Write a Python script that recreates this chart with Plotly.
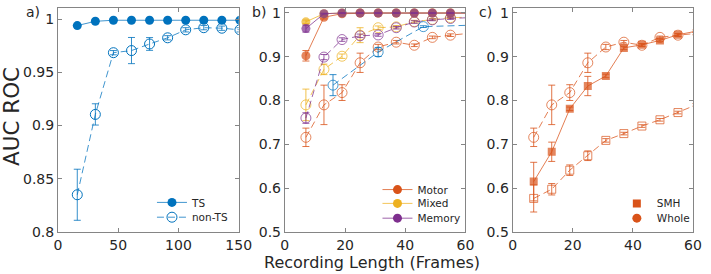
import plotly.graph_objects as go
import numpy as np

# ---------------- data ----------------
# panel a (recording length in frames)
frames_a = [16, 31, 46, 61, 76, 91, 106, 121, 136, 151]
ts_auc = [0.994, 0.998, 0.999, 0.999, 0.999, 0.999, 0.999, 0.999, 0.999, 0.999]
ts_err = [0.001, 0.001, 0.0005, 0.0005, 0.0005, 0.0005, 0.0005, 0.0005, 0.0005, 0.0005]
nonts_auc = [0.835, 0.9105, 0.9685, 0.9705, 0.9767, 0.9825, 0.990, 0.992, 0.9915, 0.990]
nonts_err = [0.024, 0.010, 0.002, 0.0123, 0.006, 0.002, 0.002, 0.002, 0.002, 0.002]

# panels b and c
frames_bc = [7, 13, 19, 25, 31, 37, 43, 49, 55, 61]
motor_ts = [0.902, 0.990, 0.998, 0.9995, 0.9995, 0.9995, 0.9995, 0.9995, 0.9995, 0.9995]
motor_ts_err = [0.012, 0.004, 0.001, 0.0005, 0.0005, 0.0005, 0.0005, 0.0005, 0.0005, 0.0005]
mixed_ts = [0.9795, 0.998, 0.9995, 0.9995, 0.9995, 0.9995, 0.9995, 0.9995, 0.9995, 0.9995]
mixed_ts_err = [0.004, 0.001, 0.0005, 0.0005, 0.0005, 0.0005, 0.0005, 0.0005, 0.0005, 0.0005]
memory_ts = [0.964, 0.998, 0.9995, 0.9995, 0.9995, 0.9995, 0.9995, 0.9995, 0.9995, 0.9995]
memory_ts_err = [0.008, 0.001, 0.0005, 0.0005, 0.0005, 0.0005, 0.0005, 0.0005, 0.0005, 0.0005]

motor_non = [0.716, 0.790, 0.818, 0.886, 0.922, 0.933, 0.926, 0.944, 0.949, 0.953]
motor_non_err = [0.021, 0.045, 0.018, 0.022, 0.006, 0.004, 0.003, 0.003, 0.003, 0.003]
mixed_non = [0.790, 0.871, 0.901, 0.949, 0.966, 0.968, 0.980, 0.985, 0.989, 0.990]
mixed_non_err = [0.036, 0.012, 0.005, 0.017, 0.004, 0.003, 0.003, 0.002, 0.002, 0.002]
memory_non = [0.760, 0.899, 0.939, 0.9475, 0.9495, 0.966, 0.979, 0.984, 0.987, 0.989]
memory_non_err = [0.012, 0.006, 0.004, 0.004, 0.003, 0.003, 0.003, 0.002, 0.002, 0.002]

smh_ts = [0.615, 0.683, 0.781, 0.833, 0.856, 0.920, 0.927, 0.937, 0.950, 0.958]
smh_ts_err = [0.044, 0.022, 0.004, 0.022, 0.004, 0.004, 0.003, 0.003, 0.003, 0.003]
smh_non = [0.5766, 0.5975, 0.641, 0.674, 0.709, 0.7245, 0.7417, 0.756, 0.7725, 0.790]
smh_non_err = [0.031, 0.013, 0.012, 0.011, 0.004, 0.003, 0.003, 0.003, 0.003, 0.003]

ticks_a_x = [0, 50, 100, 150]
ticks_bc_x = [0, 20, 40, 60]
ticks_a_y = [0.8, 0.85, 0.9, 0.95, 1.0]
ticks_bc_y = [0.5, 0.6, 0.7, 0.8, 0.9, 1.0]

# ---------------- style ----------------
BLUE = '#0072BD'; ORANGE = '#D95319'; YELLOW = '#EDB120'; PURPLE = '#7E2F8E'
TXT = '#262626'; AX = '#858585'
FONT = 'DejaVu Sans'
W, H = 711, 274
ML, MR, MT, MB = 58, 11, 5, 42
PW, PH = W - ML - MR, H - MT - MB


def rgba(h, a):
    h = h.lstrip('#')
    return 'rgba(%d,%d,%d,%.2f)' % (int(h[0:2], 16), int(h[2:4], 16), int(h[4:6], 16), a)


def px2paper(px, py):
    return (px - ML) / PW, (MT + PH - py) / PH


fig = go.Figure()


def series(x, y, err, color, symbol, dashed, ax, size, xmax=None):
    x = np.asarray(x, float)
    sizes = size if xmax is None else np.where(x <= xmax, size, 0).tolist()
    openm = symbol.endswith('open')
    fig.add_trace(go.Scatter(
        x=x, y=y, mode='lines+markers', showlegend=False, hoverinfo='skip',
        xaxis='x' + ax, yaxis='y' + ax, cliponaxis=True,
        line=dict(color=rgba(color, 0.75), width=1, dash='7px,4px' if dashed else 'solid'),
        marker=dict(symbol=symbol, size=sizes, color=color,
                    line=dict(color=color, width=1 if openm else 0)),
        error_y=dict(type='data', array=err, visible=True, thickness=1, width=3.5,
                     color=rgba(color, 0.8)),
    ))


def legend_entry(name, color, symbol, dashed, lines, legend, size):
    fig.add_trace(go.Scatter(
        x=[None], y=[None], name=name, legend=legend,
        mode='lines+markers' if lines else 'markers',
        line=dict(color=rgba(color, 0.75), width=1, dash='7px,4px' if dashed else 'solid'),
        marker=dict(symbol=symbol, size=size, color=color,
                    line=dict(color=color, width=1 if symbol.endswith('open') else 0)),
        xaxis='x', yaxis='y'))


# panel a
series(frames_a, nonts_auc, nonts_err, BLUE, 'circle-open', True, '', 10)
series(frames_a, ts_auc, ts_err, BLUE, 'circle', False, '', 9)

# panel b
series(frames_bc, motor_non, motor_non_err, ORANGE, 'circle-open', True, '2', 10, 60)
series(frames_bc, mixed_non, mixed_non_err, YELLOW, 'circle-open', True, '2', 10, 60)
series(frames_bc, memory_non, memory_non_err, PURPLE, 'circle-open', True, '2', 10, 60)
series(frames_a, nonts_auc, nonts_err, BLUE, 'circle-open', True, '2', 10, 60)
series(frames_bc, motor_ts, motor_ts_err, ORANGE, 'circle', False, '2', 9, 60)
series(frames_bc, mixed_ts, mixed_ts_err, YELLOW, 'circle', False, '2', 9, 60)
series(frames_bc, memory_ts, memory_ts_err, PURPLE, 'circle', False, '2', 9, 60)

# panel c
series(frames_bc, motor_non, motor_non_err, ORANGE, 'circle-open', True, '3', 10, 60)
series(frames_bc, smh_non, smh_non_err, ORANGE, 'square-open', True, '3', 8, 60)
series(frames_bc, smh_ts, smh_ts_err, ORANGE, 'square', False, '3', 8, 60)

# legend entries
legend_entry('TS', BLUE, 'circle', False, True, 'legend', 9)
legend_entry('non-TS', BLUE, 'circle-open', True, True, 'legend2', 10)
legend_entry('Motor', ORANGE, 'circle', False, True, 'legend3', 9)
legend_entry('Mixed', YELLOW, 'circle', False, True, 'legend4', 9)
legend_entry('Memory', PURPLE, 'circle', False, True, 'legend5', 9)
legend_entry('SMH', ORANGE, 'square', False, False, 'legend6', 8)
legend_entry('Whole', ORANGE, 'circle', False, False, 'legend7', 9)

leg_pos = {
    'legend': (153, 202), 'legend2': (153, 217),
    'legend3': (381, 189), 'legend4': (381, 203), 'legend5': (381, 218),
    'legend6': (623, 203), 'legend7': (623, 218),
}
legends = {}
for k, (px, py) in leg_pos.items():
    lx, ly = px2paper(px, py)
    legends[k] = dict(x=lx, y=ly, xanchor='left', yanchor='middle', xref='paper', yref='paper',
                      bgcolor='rgba(0,0,0,0)', borderwidth=0,
                      font=dict(family=FONT, size=10.5, color=TXT))


def axis(domain, rng, tickvals, anchor):
    return dict(domain=domain, range=rng, tickvals=tickvals, anchor=anchor,
                showline=True, linecolor=AX, linewidth=1, mirror='ticks',
                ticks='inside', ticklen=4, tickcolor=AX, tickwidth=1,
                showgrid=False, zeroline=False,
                tickfont=dict(family=FONT, size=14, color=TXT))


layout = dict(
    width=W, height=H, margin=dict(l=ML, r=MR, t=MT, b=MB),
    paper_bgcolor='white', plot_bgcolor='white', showlegend=True,
    font=dict(family=FONT, color=TXT), hovermode=False,
    xaxis=axis([0, 0.2846], [0, 150], ticks_a_x, 'y'),
    yaxis=axis([0, 1], [0.8, 1.0105], ticks_a_y, 'x'),
    xaxis2=axis([0.3572, 0.6417], [0, 60], ticks_bc_x, 'y2'),
    yaxis2=axis([0, 1], [0.5, 1.011], ticks_bc_y, 'x2'),
    xaxis3=axis([0.716, 1.0], [0, 60], ticks_bc_x, 'y3'),
    yaxis3=axis([0, 1], [0.5, 1.011], ticks_bc_y, 'x3'),
)
layout.update(legends)
fig.update_layout(**layout)

ann = []
for lab, px in (('a)', 24), ('b)', 252), ('c)', 482)):
    ax_, ay_ = px2paper(px, 9)
    ann.append(dict(text=lab, x=ax_, y=ay_, xref='paper', yref='paper', xanchor='left',
                    yanchor='middle', showarrow=False, font=dict(family=FONT, size=14, color=TXT)))
ax_, ay_ = px2paper(10.5, 115.5)
ann.append(dict(text='AUC ROC', x=ax_, y=ay_, xref='paper', yref='paper', textangle=-90,
                xanchor='center', yanchor='middle', showarrow=False,
                font=dict(family=FONT, size=21.5, color=TXT)))
ax_, ay_ = px2paper(375.5, 263)
ann.append(dict(text='Recording Length (Frames)', x=ax_, y=ay_, xref='paper', yref='paper',
                xanchor='center', yanchor='middle', showarrow=False,
                font=dict(family=FONT, size=16, color=TXT)))
fig.update_layout(annotations=ann)

fig.write_html('out.html', config={'displayModeBar': False, 'staticPlot': True},
               post_script="document.body.style.margin='0';document.body.style.overflow='hidden';")
